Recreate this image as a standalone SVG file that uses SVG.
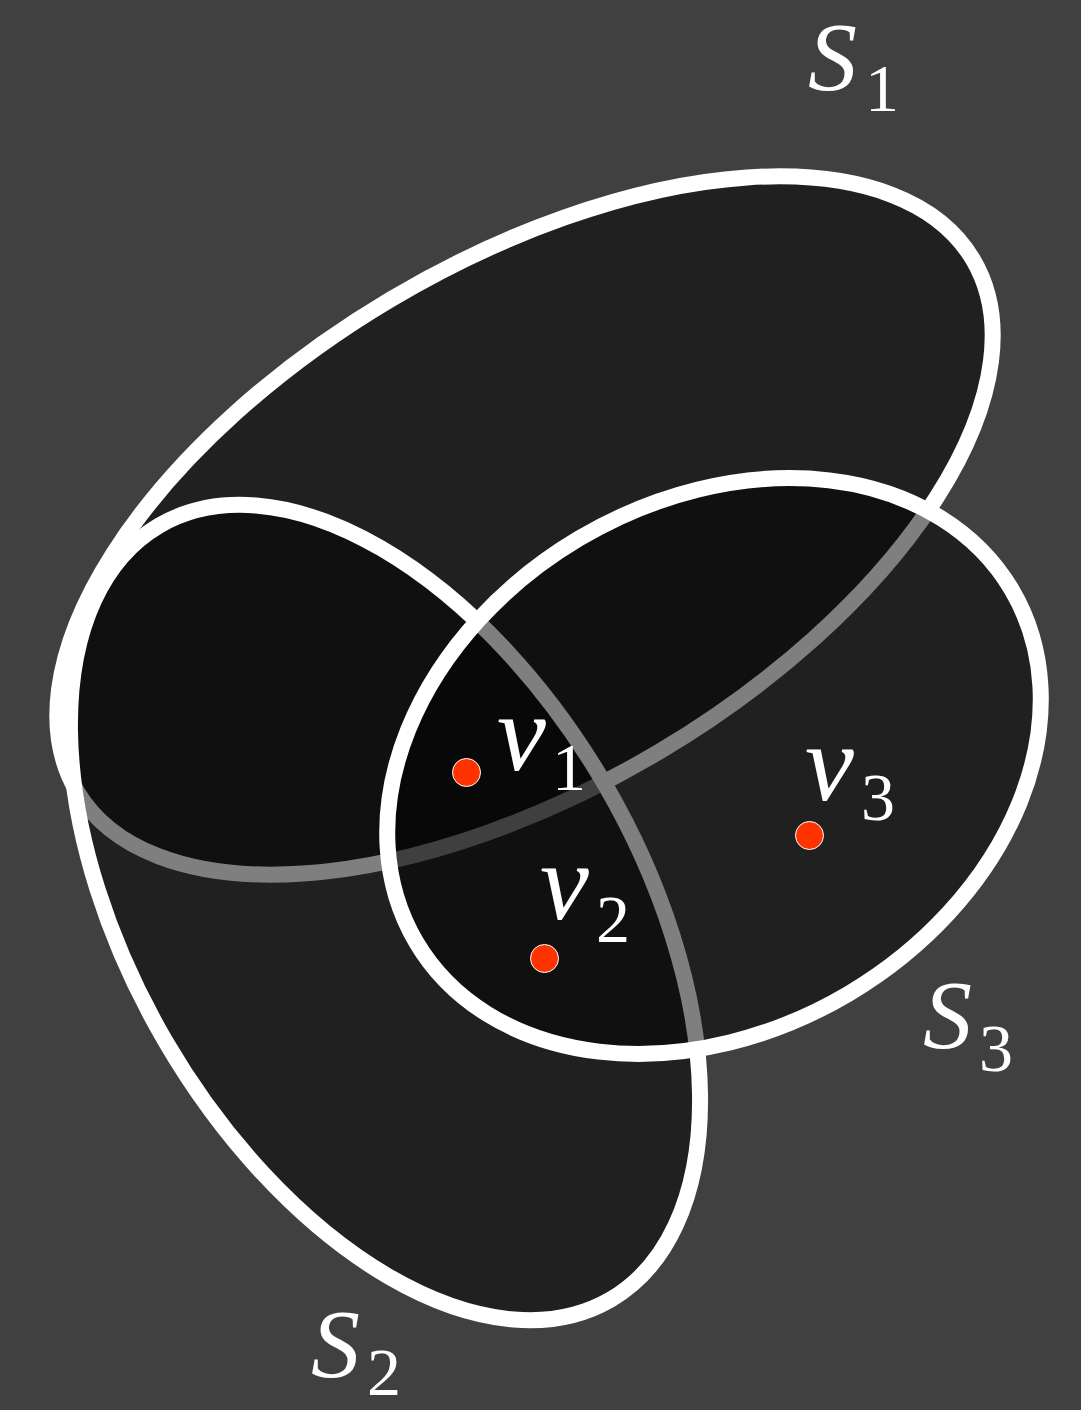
<svg xmlns="http://www.w3.org/2000/svg" width="1081" height="1410" viewBox="0 0 1081 1410">
<style>
.set{fill:#000;fill-opacity:0.5;stroke:#fff;stroke-width:16}
.pt{fill:#ff3300;stroke:#fff;stroke-width:1}
.lbl{font-family:"Liberation Serif","DejaVu Serif",serif;fill:#fff}
.it{font-style:italic;font-size:98px}
.vit{font-style:italic;font-size:110px}
.sub{font-style:normal;font-size:68px}
</style>
<rect x="0" y="0" width="1081" height="1410" fill="#404040"/>
<g id="S1">
<ellipse class="set" cx="525" cy="525.5" rx="521" ry="263" transform="rotate(-30.7 525 525.5)"/>
<text class="lbl" x="808" y="90"><tspan class="it">S</tspan><tspan class="sub" x="865" y="111">1</tspan></text>
</g>
<g id="S2">
<ellipse class="set" cx="385" cy="912.5" rx="448" ry="254.5" transform="rotate(59.75 385 912.5)"/>
<text class="lbl" x="311" y="1377"><tspan class="it">S</tspan><tspan class="sub" x="367" y="1395">2</tspan></text>
</g>
<g id="S3">
<ellipse class="set" cx="714" cy="766" rx="346" ry="264.5" transform="rotate(-30.65 714 766)"/>
<text class="lbl" x="923" y="1048"><tspan class="it">S</tspan><tspan class="sub" x="979" y="1071">3</tspan></text>
</g>
<g id="v1">
<circle class="pt" cx="466.5" cy="772.5" r="14"/>
<text class="lbl" x="497" y="770"><tspan class="vit">v</tspan><tspan class="sub" x="552" y="790">1</tspan></text>
</g>
<g id="v2">
<circle class="pt" cx="544.5" cy="958.5" r="14"/>
<text class="lbl" x="540" y="919"><tspan class="vit">v</tspan><tspan class="sub" x="596" y="942">2</tspan></text>
</g>
<g id="v3">
<circle class="pt" cx="809.5" cy="835.5" r="14"/>
<text class="lbl" x="805" y="800"><tspan class="vit">v</tspan><tspan class="sub" x="861" y="820">3</tspan></text>
</g>
</svg>
